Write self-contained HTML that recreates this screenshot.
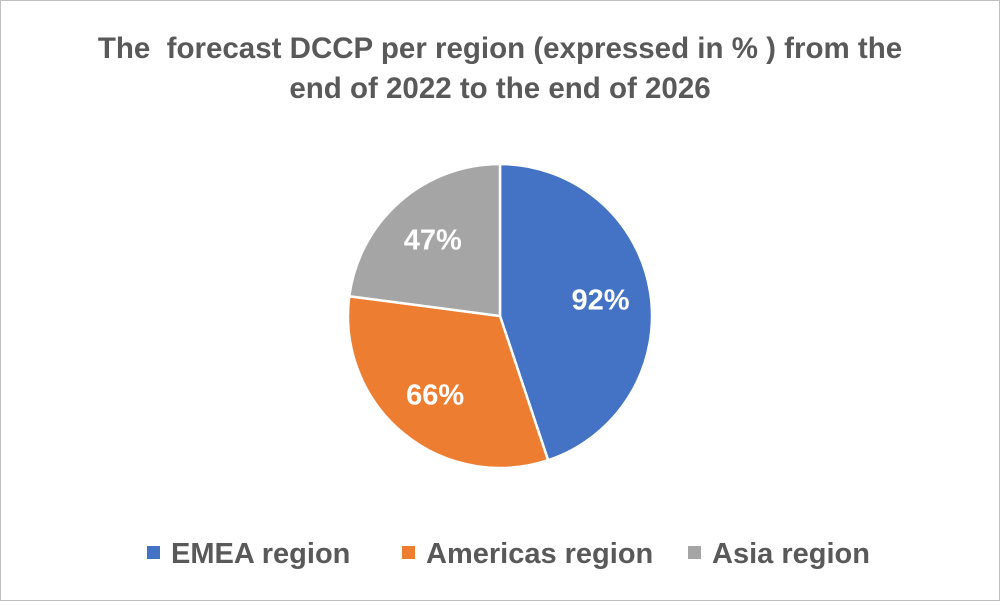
<!DOCTYPE html>
<html><head><meta charset="utf-8"><style>
body{margin:0;background:#fff;}
#wrap{position:relative;width:998px;height:599px;border:1px solid #bfbfbf;background:#fff;font-family:"Liberation Sans",sans-serif;}
</style></head><body>
<div id="wrap">
<svg id="svg" width="998" height="599" xmlns="http://www.w3.org/2000/svg">
<text x="499" y="57" text-anchor="middle" font-size="29.5" font-weight="bold" fill="#595959">The &#160;forecast DCCP per region (expressed in % ) from the</text>
<text x="499" y="97" text-anchor="middle" font-size="29.5" font-weight="bold" fill="#595959">end of 2022 to the end of 2026</text>
<g id="slices"></g>
<g id="legend"></g>
</svg>
</div>
<script>
const categories=["EMEA region","Americas region","Asia region"];
const values=[92,66,47];
const labels=["92%","66%","47%"];
const colors=["#4472c4","#ed7d31","#a5a5a5"];
const NS="http://www.w3.org/2000/svg";
const cx=499,cy=315,r=152;
const total=values.reduce((a,b)=>a+b,0);
const g=document.getElementById('slices');
let a0=0;
function pt(a,rr){return [cx+rr*Math.sin(a),cy-rr*Math.cos(a)];}
values.forEach((v,i)=>{
  const a1=a0+v/total*2*Math.PI;
  const p0=pt(a0,r),p1=pt(a1,r);
  const large=(a1-a0)>Math.PI?1:0;
  const p=document.createElementNS(NS,'path');
  p.setAttribute('d',`M${cx},${cy}L${p0[0]},${p0[1]}A${r},${r} 0 ${large} 1 ${p1[0]},${p1[1]}Z`);
  p.setAttribute('fill',colors[i]);p.setAttribute('stroke','#fff');p.setAttribute('stroke-width','2.5');
  
  
  g.appendChild(p);
  const m=(a0+a1)/2,lp=pt(m,r*0.67);
  const t=document.createElementNS(NS,'text');
  t.setAttribute('x',lp[0]);t.setAttribute('y',lp[1]+10);
  t.setAttribute('text-anchor','middle');t.setAttribute('font-size','29');t.setAttribute('font-weight','bold');t.setAttribute('fill','#fff');
  t.textContent=labels[i];
  
  
  g.appendChild(t);
  a0=a1;
});
const lg=document.getElementById('legend');
const lx=[146,401,687];
categories.forEach((c,i)=>{
  const rc=document.createElementNS(NS,'rect');
  rc.setAttribute('x',lx[i]);rc.setAttribute('y',545);rc.setAttribute('width',13);rc.setAttribute('height',13);rc.setAttribute('fill',colors[i]);
  
  
  lg.appendChild(rc);
  const t=document.createElementNS(NS,'text');
  t.setAttribute('x',lx[i]+24);t.setAttribute('y',562);t.setAttribute('font-size','29');t.setAttribute('font-weight','bold');t.setAttribute('fill','#595959');
  t.textContent=c;
  
  
  lg.appendChild(t);
});
</script>
</body></html>
